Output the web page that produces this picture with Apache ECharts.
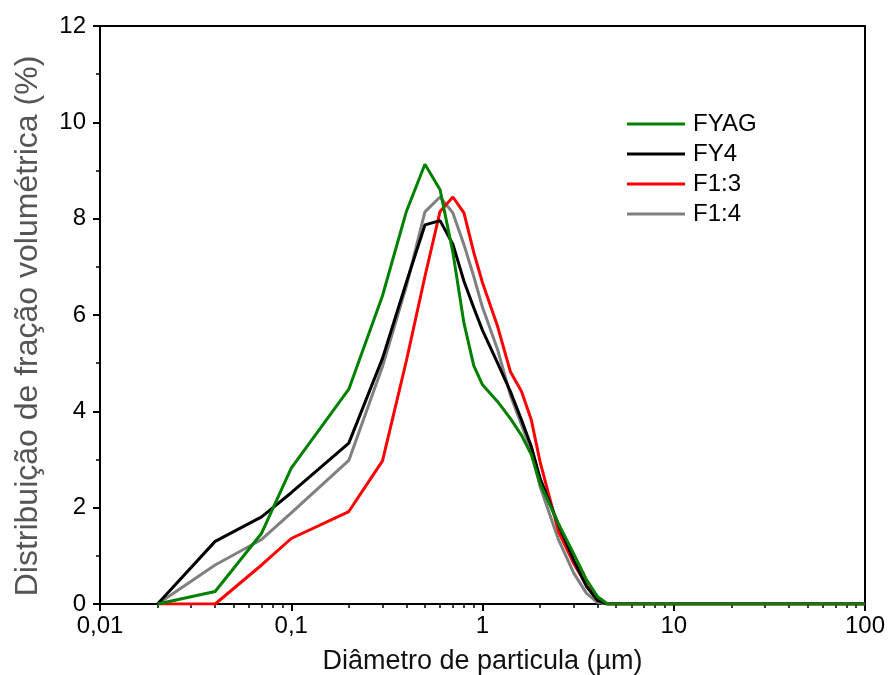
<!DOCTYPE html>
<html><head><meta charset="utf-8">
<script src="https://cdn.jsdelivr.net/npm/echarts@6/dist/echarts.min.js"></script>
<style>html,body{margin:0;padding:0;background:#fff}#c{width:888px;height:675px}</style>
</head><body><div id="c"></div>
<script>
var diameters = [0.02,0.04,0.07,0.1,0.2,0.3,0.4,0.5,0.6,0.7,0.8,0.9,1,1.2,1.4,1.6,1.8,2,2.5,3,3.5,4,4.5,5,10,20,50,100];
var FYAG = [0,0.26,1.47,2.82,4.46,6.4,8.15,9.13,8.6,7.3,5.83,4.95,4.55,4.2,3.85,3.5,3.1,2.5,1.66,1.04,0.5,0.15,0,0,0,0,0,0];
var FY4  = [0,1.3,1.81,2.31,3.34,5.1,6.68,7.87,7.96,7.47,6.7,6.15,5.68,5.0,4.41,3.82,3.27,2.61,1.64,0.91,0.36,0.07,0,0,0,0,0,0];
var F13  = [0,0,0.81,1.36,1.92,2.97,5.05,6.8,8.15,8.45,8.12,7.3,6.67,5.76,4.82,4.41,3.82,2.95,1.5,0.84,0.39,0.14,0,0,0,0,0,0];
var F14  = [0,0.81,1.34,1.89,2.98,4.93,6.6,8.14,8.45,8.12,7.46,6.8,6.16,5.28,4.33,3.72,3.16,2.44,1.33,0.64,0.22,0.03,0,0,0,0,0,0];
var seriesNames = ['FYAG','FY4','F1:3','F1:4'];
var seriesColors = ['#008000','#000000','#ff0000','#808080'];
var xTickLabels = {0.01:'0,01',0.1:'0,1',1:'1',10:'10',100:'100'};
var minorLogTicks = [];
[-2,-1,0,1].forEach(function(e){ for(var m=2;m<=9;m++){ minorLogTicks.push(Math.log10(m)+e); } });

function pairs(ys){ return diameters.map(function(d,i){ return [d, ys[i]]; }); }
var allY = [FYAG, FY4, F13, F14];

var chart = echarts.init(document.getElementById('c'));
var font = 'Arial, "Liberation Sans", sans-serif';
chart.setOption({
  animation:false,
  grid:{left:100,right:23,top:26,bottom:71,show:true,borderColor:'#000',borderWidth:2,backgroundColor:'transparent',containLabel:false,outerBoundsMode:'none'},
  legend:{
    orient:'vertical', left:622, top:107, itemWidth:58, itemHeight:3, itemGap:6, icon:'rect',
    textStyle:{fontFamily:font, fontSize:24, color:'#000', padding:[0,0,0,3]},
    data:seriesNames
  },
  xAxis:[{
    type:'log', logBase:10, min:0.01, max:100,
    name:'Diâmetro de particula (µm)', nameLocation:'middle', nameGap:44,
    nameTextStyle:{fontFamily:font, fontSize:27, color:'#111'},
    axisLine:{show:true, onZero:false, lineStyle:{color:'#000', width:2}},
    axisTick:{show:true, length:7, lineStyle:{color:'#000', width:2}},
    axisLabel:{fontFamily:font, fontSize:24, color:'#000', margin:10,
      formatter:function(v){ var k=Number(v); for (var key in xTickLabels){ if (Math.abs(Number(key)-k)<1e-9*Math.max(1,k)) return xTickLabels[key]; } return ''; }},
    splitLine:{show:false}
  },{
    type:'value', min:-2, max:2, position:'bottom',
    axisLine:{show:true, onZero:false, lineStyle:{color:'#000', width:2, opacity:0}},
    axisTick:{show:true, length:4, customValues:minorLogTicks, lineStyle:{color:'#000', width:1.5}},
    axisLabel:{show:false},
    splitLine:{show:false}
  }],
  yAxis:{
    type:'value', min:0, max:12, interval:2,
    name:'Distribuição de fração volumétrica (%)', nameLocation:'middle', nameGap:56,
    nameTextStyle:{fontFamily:font, fontSize:32, color:'#555', padding:[0,22,0,0]},
    axisLine:{show:true, onZero:false, lineStyle:{color:'#000', width:2}},
    axisTick:{show:true, length:7, lineStyle:{color:'#000', width:2}},
    minorTick:{show:true, splitNumber:2, length:4, lineStyle:{color:'#000', width:1.5}},
    axisLabel:{fontFamily:font, fontSize:24, color:'#000', margin:14},
    splitLine:{show:false}
  },
  series: seriesNames.map(function(n,i){
    return {name:n, type:'line', xAxisIndex:0, data:pairs(allY[i]), symbol:'none', smooth:false,
      lineStyle:{color:seriesColors[i], width:3}, itemStyle:{color:seriesColors[i]}, z:10-i};
  })
});
</script></body></html>
